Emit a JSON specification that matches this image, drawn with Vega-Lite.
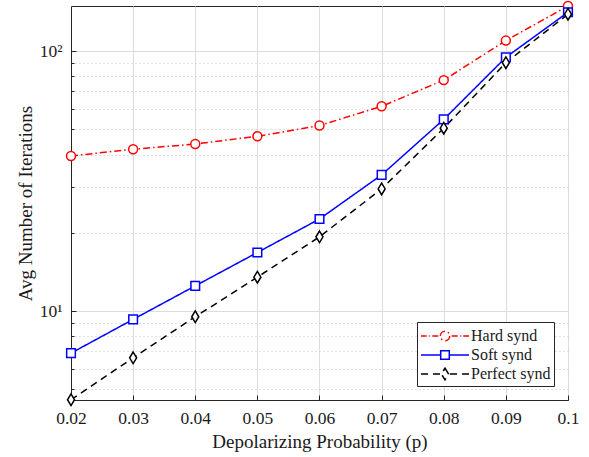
{
  "$schema": "https://vega.github.io/schema/vega-lite/v6.json",
  "width": 497,
  "height": 394,
  "autosize": {"type": "none"},
  "padding": {"left": 71, "top": 6, "right": 21, "bottom": 57},
  "background": "white",
  "config": {
    "font": "Liberation Serif",
    "view": {"stroke": "#262626", "strokeWidth": 1},
    "axis": {
      "labelFont": "Liberation Serif",
      "titleFont": "Liberation Serif",
      "labelFontSize": 17.5,
      "titleFontSize": 19,
      "titleFontWeight": "normal",
      "labelColor": "#1a1a1a",
      "titleColor": "#1a1a1a",
      "domainColor": "#262626",
      "tickColor": "#262626"
    },
    "legend": {
      "labelFont": "Liberation Serif",
      "labelFontSize": 16,
      "labelColor": "#1a1a1a"
    }
  },
  "data": {
    "values": [
      {"p": 0.02, "series": "Hard synd", "v": 39.5},
      {"p": 0.03, "series": "Hard synd", "v": 41.9},
      {"p": 0.04, "series": "Hard synd", "v": 43.9},
      {"p": 0.05, "series": "Hard synd", "v": 47.0},
      {"p": 0.06, "series": "Hard synd", "v": 51.7},
      {"p": 0.07, "series": "Hard synd", "v": 61.3},
      {"p": 0.08, "series": "Hard synd", "v": 77.3},
      {"p": 0.09, "series": "Hard synd", "v": 109.7},
      {"p": 0.1, "series": "Hard synd", "v": 149},
      {"p": 0.02, "series": "Soft synd", "v": 6.89},
      {"p": 0.03, "series": "Soft synd", "v": 9.29},
      {"p": 0.04, "series": "Soft synd", "v": 12.5},
      {"p": 0.05, "series": "Soft synd", "v": 16.8},
      {"p": 0.06, "series": "Soft synd", "v": 22.6},
      {"p": 0.07, "series": "Soft synd", "v": 33.4},
      {"p": 0.08, "series": "Soft synd", "v": 54.6},
      {"p": 0.09, "series": "Soft synd", "v": 94.6},
      {"p": 0.1, "series": "Soft synd", "v": 141},
      {"p": 0.02, "series": "Perfect synd", "v": 4.56},
      {"p": 0.03, "series": "Perfect synd", "v": 6.61},
      {"p": 0.04, "series": "Perfect synd", "v": 9.51},
      {"p": 0.05, "series": "Perfect synd", "v": 13.5},
      {"p": 0.06, "series": "Perfect synd", "v": 19.3},
      {"p": 0.07, "series": "Perfect synd", "v": 29.5},
      {"p": 0.08, "series": "Perfect synd", "v": 50.5},
      {"p": 0.09, "series": "Perfect synd", "v": 90.2},
      {"p": 0.1, "series": "Perfect synd", "v": 138.6}
    ]
  },
  "encoding": {
    "x": {
      "field": "p",
      "type": "quantitative",
      "scale": {"domain": [0.02, 0.1], "nice": false, "zero": false},
      "axis": {
        "title": "Depolarizing Probability (p)",
        "values": [0.02, 0.03, 0.04, 0.05, 0.06, 0.07, 0.08, 0.09, 0.1],
        "format": ".2~f",
        "grid": true,
        "gridColor": "#dcdcdc",
        "gridWidth": 1,
        "tickSize": -5,
        "labelPadding": 14,
        "titlePadding": 6,
        "labelFlush": false
      }
    },
    "y": {
      "field": "v",
      "type": "quantitative",
      "scale": {"type": "log", "domain": [4.55, 149], "nice": false},
      "axis": {
        "title": "Avg Number of Iterations",
        "values": [5, 6, 7, 8, 9, 10, 20, 30, 40, 50, 60, 70, 80, 90, 100],
        "labelExpr": "datum.value == 10 ? '10¹' : (datum.value == 100 ? '10²' : '')",
        "grid": true,
        "gridColor": {"condition": {"test": "datum.value == 10 || datum.value == 100", "value": "#dcdcdc"}, "value": "#c4c4c4"},
        "gridDash": {"condition": {"test": "datum.value == 10 || datum.value == 100", "value": []}, "value": [1, 3]},
        "tickSize": {"condition": {"test": "datum.value == 10 || datum.value == 100", "value": -5}, "value": -3},
        "labelPadding": 14,
        "titlePadding": 4,
        "labelFlush": false
      }
    }
  },
  "layer": [
    {
      "mark": {"type": "line", "strokeWidth": 1.5},
      "encoding": {
        "color": {
          "field": "series", "type": "nominal",
          "scale": {"domain": ["Hard synd", "Soft synd", "Perfect synd"], "range": ["#ff0000", "#0000ff", "#000000"]}
        },
        "strokeDash": {
          "field": "series", "type": "nominal",
          "scale": {"domain": ["Hard synd", "Soft synd", "Perfect synd"], "range": [[7, 3, 1.5, 3], [1, 0], [7, 5]]},
          "legend": null
        }
      }
    },
    {
      "transform": [{"filter": "datum.series == 'Hard synd'"}],
      "mark": {"type": "point", "shape": "circle", "filled": false, "fill": "white", "fillOpacity": 1, "opacity": 1, "size": 80, "strokeWidth": 1.5},
      "encoding": {"color": {"field": "series", "type": "nominal"}}
    },
    {
      "transform": [{"filter": "datum.series == 'Soft synd'"}],
      "mark": {"type": "point", "shape": "square", "filled": false, "fill": "white", "fillOpacity": 1, "opacity": 1, "size": 75, "strokeWidth": 1.5},
      "encoding": {"color": {"field": "series", "type": "nominal"}}
    },
    {
      "transform": [{"filter": "datum.series == 'Perfect synd'"}],
      "mark": {"type": "point", "shape": "M0,-1.45L0.88,0L0,1.45L-0.88,0Z", "filled": false, "fill": "white", "fillOpacity": 1, "opacity": 1, "size": 64, "strokeWidth": 1.5},
      "encoding": {"color": {"field": "series", "type": "nominal"}}
    },
    {
      "mark": {"type": "point", "filled": false, "opacity": 0, "size": 400, "strokeWidth": 1.5},
      "encoding": {
        "color": {
          "field": "series", "type": "nominal",
          "scale": {"domain": ["Hard synd", "Soft synd", "Perfect synd"], "range": ["#ff0000", "#0000ff", "#000000"]},
          "legend": {
            "title": null,
            "orient": "bottom-right",
            "offset": 14,
            "padding": 3,
            "strokeColor": "#262626",
            "fillColor": "white",
            "symbolOpacity": 1,
            "symbolSize": 400,
            "symbolStrokeWidth": 1.5,
            "symbolOffset": 14,
            "labelOffset": 15,
            "rowPadding": 0
          }
        },
        "shape": {
          "field": "series", "type": "nominal",
          "scale": {
            "domain": ["Hard synd", "Soft synd", "Perfect synd"],
            "range": [
              "M-2.4,0H-1.83M-1.62,0H-1.52M-1.27,0H-0.67M0.47,0A0.47,0.47 0 1,1 -0.47,0A0.47,0.47 0 1,1 0.47,0M0.67,0H1.27M1.52,0H1.62M1.83,0H2.4",
              "M-2.4,0H-0.43M0.43,0H2.4M-0.43,-0.43H0.43V0.43H-0.43Z",
              "M-2.4,0H-1.7M-1.2,0H-0.5M0,-0.58L0.36,0L0,0.58L-0.36,0ZM0.5,0H1.2M1.7,0H2.4"
            ]
          },
          "legend": {
            "title": null,
            "orient": "bottom-right",
            "offset": 14,
            "padding": 3,
            "strokeColor": "#262626",
            "fillColor": "white",
            "symbolOpacity": 1,
            "symbolSize": 400,
            "symbolStrokeWidth": 1.5,
            "symbolOffset": 14,
            "labelOffset": 15,
            "rowPadding": 0
          }
        }
      }
    }
  ]
}
